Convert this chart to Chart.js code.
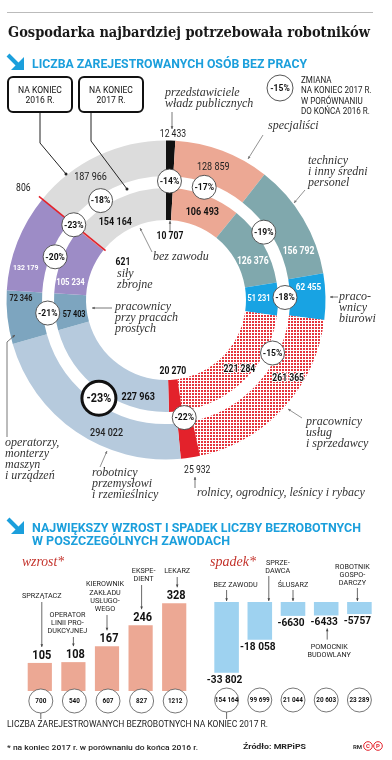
<!DOCTYPE html>
<html>
<head>
<meta charset="utf-8">
<script src="https://cdn.jsdelivr.net/npm/chart.js"></script>
<style>
  body { margin: 0; background: #fff; }
  #page { position: relative; width: 392px; height: 760px; overflow: hidden; }
  #page canvas { position: absolute; left: 0; top: 0; }
</style>
</head>
<body>
<div id="page">
  <canvas id="ring" width="392" height="760"></canvas>
  <canvas id="up" width="392" height="760"></canvas>
  <canvas id="down" width="392" height="760"></canvas>
</div>
<script>
// occupational groups, clockwise from 12 o'clock
const groups = ['przedstawiciele władz publicznych', 'specjaliści', 'technicy i inny średni personel',
  'pracownicy biurowi', 'pracownicy usług i sprzedawcy', 'rolnicy, ogrodnicy, leśnicy i rybacy',
  'robotnicy przemysłowi i rzemieślnicy', 'operatorzy, monterzy maszyn i urządzeń',
  'pracownicy przy pracach prostych', 'siły zbrojne', 'bez zawodu'];
const end2016 = [12433, 128859, 156792, 62455, 261365, 25932, 294022, 72346, 132179, 806, 187966];
const end2017 = [10707, 106493, 126376, 51231, 221284, 20270, 227963, 57403, 105234, 621, 154164];
const change = [-14, -17, -19, -18, -15, -22, -23, -21, -20, -23, -18];

// biggest rise / fall in single occupations
const riseJobs = ['SPRZĄTACZ', 'OPERATOR LINII PRODUKCYJNEJ', 'KIEROWNIK ZAKŁADU USŁUGOWEGO', 'EKSPEDIENT', 'LEKARZ'];
const riseValues = [105, 108, 167, 246, 328];
const riseTotals = [700, 540, 607, 827, 1212];
const fallJobs = ['BEZ ZAWODU', 'SPRZEDAWCA', 'ŚLUSARZ', 'POMOCNIK BUDOWLANY', 'ROBOTNIK GOSPODARCZY'];
const fallValues = [-33802, -18058, -6630, -6433, -5757];
const fallTotals = [154164, 99699, 21044, 20603, 23289];

// how the names are broken on the page
const riseLines = [['SPRZĄTACZ'], ['OPERATOR', 'LINII PRO-', 'DUKCYJNEJ'], ['KIEROWNIK', 'ZAKŁADU', 'USŁUGO-', 'WEGO'], ['EKSPE-', 'DIENT'], ['LEKARZ']];
const fallLines = [['BEZ ZAWODU'], ['SPRZE-', 'DAWCA'], ['ŚLUSARZ'], ['POMOCNIK', 'BUDOWLANY'], ['ROBOTNIK', 'GOSPO-', 'DARCZY']];

const fmt = n => Math.abs(n) >= 10000 ? String(n).replace(/\B(?=(\d{3})+(?!\d))/g, ' ') : String(n);

function say(ctx, s, x, y, o = {}) {
  ctx.save();
  ctx.font = (o.italic ? 'italic ' : '') + (o.weight || 400) + ' ' + (o.size || 10) + 'px ' + (o.family || 'Roboto');
  ctx.fillStyle = o.color || '#222';
  ctx.textBaseline = o.base || 'alphabetic';
  ctx.textAlign = o.align || 'left';
  let sx = o.sx || 1;
  if (o.fit) sx = o.fit / ctx.measureText(s).width;
  ctx.translate(x, y);
  ctx.scale(sx, 1);
  if (o.halo) {
    ctx.strokeStyle = o.halo;
    ctx.lineWidth = 2;
    ctx.lineJoin = 'round';
    ctx.strokeText(s, 0, 0);
  }
  ctx.fillText(s, 0, 0);
  ctx.restore();
}

function line(ctx, pts, o = {}) {
  ctx.save();
  ctx.strokeStyle = o.color || '#555';
  ctx.fillStyle = o.color || '#555';
  ctx.lineWidth = o.width || 0.8;
  ctx.beginPath();
  pts.forEach((p, i) => i ? ctx.lineTo(p[0], p[1]) : ctx.moveTo(p[0], p[1]));
  ctx.stroke();
  const [x1, y1] = pts[pts.length - 2], [x2, y2] = pts[pts.length - 1];
  if (o.head) {
    const a = Math.atan2(y2 - y1, x2 - x1), h = o.head;
    ctx.beginPath();
    ctx.moveTo(x2, y2);
    ctx.lineTo(x2 - h * Math.cos(a - 0.45), y2 - h * Math.sin(a - 0.45));
    ctx.lineTo(x2 - h * Math.cos(a + 0.45), y2 - h * Math.sin(a + 0.45));
    ctx.fill();
  }
  if (o.dot) {
    ctx.beginPath();
    ctx.arc(x2, y2, o.dot, 0, Math.PI * 2);
    ctx.fill();
  }
  ctx.restore();
}

function badge(ctx, x, y, r, s, o = {}) {
  ctx.save();
  ctx.beginPath();
  ctx.arc(x, y, r, 0, Math.PI * 2);
  ctx.fillStyle = '#fff';
  ctx.fill();
  ctx.lineWidth = o.border || 0.9;
  ctx.strokeStyle = o.stroke || '#444';
  ctx.stroke();
  ctx.restore();
  say(ctx, s, x, y + 0.5, { size: o.size || 9.5, weight: 700, align: 'center', base: 'middle', color: '#111', sx: o.sx || 0.9 });
}

function dots() {
  const c = document.createElement('canvas');
  c.width = 3; c.height = 3;
  const g = c.getContext('2d');
  g.fillStyle = '#fff';
  g.fillRect(0, 0, 3, 3);
  g.fillStyle = '#e5353d';
  g.fillRect(0, 0, 2, 2);
  return g.createPattern(c, 'repeat');
}

const ringColors = ['#111111', '#eca894', '#80a8ad', '#18a3e3', dots(), '#e3222b',
  '#b6cadd', '#7da5bf', '#9d8cc6', '#e3222b', '#dcdcdc'];

// ring number placement: [angle from 12 o'clock, radius, size, weight, colour, halo]
const outerAt = [
  [2.4, 166, 10, 400, '#222'], [19.6, 141, 10.5, 400, '#222'], [70, 141, 10, 700, '#fff'],
  [85, 143, 9.5, 700, '#fff'], [122.6, 145, 10, 700, '#111', '#fff'], [169.6, 173, 10, 400, '#222'],
  [204, 146, 10.5, 500, '#222'], [270.4, 145, 8.5, 700, '#222'], [283, 144, 8, 700, '#fff'],
  [308, 181, 10, 400, '#222'], [328.4, 144, 10.5, 400, '#222']];
const innerAt = [
  [3.6, 64, 10, 700, '#111'], [22.5, 95, 10.5, 700, '#111'], [66, 95, 10, 700, '#fff'],
  [89.4, 93, 8.5, 700, '#fff'], [133.4, 101, 10, 700, '#111', '#fff'], [174.5, 72, 10, 700, '#111'],
  [196, 101, 10.5, 700, '#111'], [261, 93, 8.5, 700, '#111'], [280, 97, 9, 700, '#fff'],
  [311, 57, 10, 700, '#111'], [327, 93, 10.5, 700, '#111']];
const badgeShift = [0, -2, -4, 0, -16, 0, 0, 0, 0, 0, -8];

const serif = { italic: true, size: 12, family: "'Liberation Serif'", color: '#333' };

function staticText(ctx) {
  line(ctx, [[7, 12.5], [373, 12.5]], { color: '#bbb', width: 1 });
  say(ctx, 'Gospodarka najbardziej potrzebowała robotników', 8, 37, { size: 14.5, weight: 700, family: "'DejaVu Serif'", color: '#1a1a1a', fit: 362 });

  const arrowIcon = (x, y) => {
    ctx.save();
    ctx.strokeStyle = '#1b9fdc';
    ctx.fillStyle = '#1b9fdc';
    ctx.lineWidth = 4;
    ctx.beginPath(); ctx.moveTo(x, y); ctx.lineTo(x + 11, y + 11); ctx.stroke();
    ctx.beginPath(); ctx.moveTo(x + 16, y + 2); ctx.lineTo(x + 16, y + 15); ctx.lineTo(x + 3, y + 15); ctx.fill();
    ctx.restore();
  };
  arrowIcon(8, 55);
  say(ctx, 'LICZBA ZAREJESTROWANYCH OSÓB BEZ PRACY', 32, 68, { size: 13, weight: 700, color: '#1b9fdc', fit: 275 });
  arrowIcon(8, 519);
  say(ctx, 'NAJWIĘKSZY WZROST I SPADEK LICZBY BEZROBOTNYCH', 32, 532, { size: 13, weight: 700, color: '#1b9fdc', fit: 329 });
  say(ctx, 'W POSZCZEGÓLNYCH ZAWODACH', 32, 545, { size: 13, weight: 700, color: '#1b9fdc', fit: 198 });

  // year boxes
  [[7, '2016 R.'], [78, '2017 R.']].forEach(([x, y2]) => {
    ctx.save();
    ctx.lineWidth = 2;
    ctx.strokeStyle = '#111';
    ctx.beginPath();
    ctx.roundRect(x + 1, 77, 64, 35, 5);
    ctx.stroke();
    ctx.restore();
    say(ctx, 'NA KONIEC', x + 33, 93, { size: 9, align: 'center', color: '#111', sx: 0.95 });
    say(ctx, y2, x + 33, 103, { size: 9, align: 'center', color: '#111', sx: 0.95 });
  });
  line(ctx, [[40, 113], [40, 143], [66, 174]], { color: '#222', width: 1, dot: 1.5 });
  line(ctx, [[91, 113], [91, 141], [127, 189]], { color: '#222', width: 1, dot: 1.5 });

  // legend
  badge(ctx, 280, 88, 13, '-15%', { size: 9.5 });
  ['ZMIANA', 'NA KONIEC 2017 R.', 'W PORÓWNANIU', 'DO KOŃCA 2016 R.'].forEach((s, i) =>
    say(ctx, s, 301, 83 + i * 10.3, { size: 8.5, color: '#222', sx: 0.95 }));

  // bottom
  say(ctx, 'wzrost*', 22, 566, { italic: true, size: 15, family: "'Liberation Serif'", color: '#c4342d', fit: 42 });
  say(ctx, 'spadek*', 210, 566, { italic: true, size: 15, family: "'Liberation Serif'", color: '#c4342d', fit: 46 });
  say(ctx, 'LICZBA ZAREJESTROWANYCH BEZROBOTNYCH NA KONIEC 2017 R.', 7, 727, { size: 8.5, color: '#222', fit: 261 });
  say(ctx, '* na koniec 2017 r. w porównaniu do końca 2016 r.', 7, 750, { size: 8, weight: 500, color: '#222', fit: 191 });
  say(ctx, 'Źródło: MRPiPS', 243, 749, { size: 8, weight: 700, color: '#222', fit: 63 });
  say(ctx, 'RM', 353, 749, { size: 6, weight: 700, color: '#333' });
  ['C', 'P'].forEach((s, i) => {
    ctx.save();
    ctx.strokeStyle = '#e3222b';
    ctx.lineWidth = 1;
    ctx.beginPath();
    ctx.arc(368 + i * 10, 746, 4.3, 0, Math.PI * 2);
    ctx.stroke();
    ctx.restore();
    say(ctx, s, 368 + i * 10, 746.5, { size: 6, weight: 700, color: '#e3222b', align: 'center', base: 'middle' });
  });
}

function groupNames(ctx) {
  const lines = (arr, x, y0, step) => arr.forEach((s, i) => say(ctx, s, x, y0 + i * step, serif));
  lines(['przedstawiciele', 'władz publicznych'], 165, 96, 11);
  line(ctx, [[172, 112], [172, 129]], { color: '#555', head: 3 });
  lines(['specjaliści'], 268, 129, 11);
  line(ctx, [[263, 135], [248, 159]], { color: '#777', head: 3 });
  lines(['technicy', 'i inny średni', 'personel'], 308, 164, 11);
  line(ctx, [[305, 190], [294, 203]], { color: '#777', head: 3 });
  lines(['praco-', 'wnicy', 'biurowi'], 339, 300, 11);
  line(ctx, [[338, 297], [330, 297]], { color: '#555', head: 3 });
  lines(['pracownicy', 'usług', 'i sprzedawcy'], 306, 425, 11);
  line(ctx, [[302, 418], [288, 409]], { color: '#777', head: 3 });
  lines(['rolnicy, ogrodnicy, leśnicy i rybacy'], 197, 496, 11);
  line(ctx, [[195, 488], [195, 477]], { color: '#555', head: 3 });
  lines(['robotnicy', 'przemysłowi', 'i rzemieślnicy'], 92, 476, 11);
  line(ctx, [[100, 467], [107, 451]], { color: '#777', head: 3 });
  lines(['operatorzy,', 'monterzy', 'maszyn', 'i urządzeń'], 5, 446, 11);
  line(ctx, [[7, 437], [7, 342], [15, 335]], { color: '#555', head: 3 });
  lines(['pracownicy', 'przy pracach', 'prostych'], 115, 310, 11);
  line(ctx, [[112, 308], [92, 308]], { color: '#555', head: 3 });
  lines(['bez zawodu'], 153, 260, 11);
  line(ctx, [[152, 252], [140, 228]], { color: '#777', head: 3 });
  lines(['siły', 'zbrojne'], 117, 277, 11);
  line(ctx, [[170, 231], [170, 221]], { color: '#555', head: 3 });
}

const ringPlugin = {
  id: 'ringLabels',
  afterDraw(chart) {
    const ctx = chart.ctx;
    const outer = chart.getDatasetMeta(0).data;
    const cx = outer[0].x, cy = outer[0].y;
    const polar = (deg, r) => {
      const a = (deg - 90) * Math.PI / 180;
      return [cx + r * Math.cos(a), cy + r * Math.sin(a)];
    };
    const mid = a => (a.startAngle + a.endAngle) / 2 * 180 / Math.PI + 90;

    // siły zbrojne: a hairline slice, drawn as a red stroke across both rings
    const sily = outer[9];
    const [ax, ay] = polar(mid(sily), 78), [bx, by] = polar(mid(sily), 164);
    line(ctx, [[ax, ay], [bx, by]], { color: '#e3222b', width: 1.6 });

    staticText(ctx);
    groupNames(ctx);

    end2016.forEach((v, i) => {
      const [d, r, size, weight, color, halo] = outerAt[i];
      const [x, y] = polar(d, r);
      say(ctx, fmt(v), x, y, { size, weight, color, halo, align: 'center', base: 'middle', sx: 0.86 });
    });
    end2017.forEach((v, i) => {
      const [d, r, size, weight, color, halo] = innerAt[i];
      const [x, y] = polar(d, r);
      say(ctx, fmt(v), x, y, { size, weight, color, halo, align: 'center', base: 'middle', sx: 0.86 });
    });
    change.forEach((v, i) => {
      const [x, y] = polar(mid(outer[i]) + badgeShift[i], 119);
      if (i === 6) badge(ctx, x, y, 17, v + '%', { border: 3, stroke: '#111', size: 12 });
      else badge(ctx, x, y, 12, v + '%');
    });
  }
};

new Chart(document.getElementById('ring'), {
  type: 'doughnut',
  data: {
    labels: groups,
    datasets: [
      { label: 'koniec 2016', data: end2016, backgroundColor: ringColors, weight: 35.5 },
      { label: 'odstęp', data: [1], backgroundColor: 'rgba(0,0,0,0)', weight: 12 },
      { label: 'koniec 2017', data: end2017, backgroundColor: ringColors, weight: 32 }
    ]
  },
  options: {
    responsive: false,
    animation: false,
    events: [],
    cutout: 80,
    elements: { arc: { borderWidth: 0, offset: 0, hoverOffset: 0 } },
    layout: { padding: { left: 6.5, right: 66.5, top: 140.5, bottom: 300.5 } },
    plugins: { legend: { display: false }, tooltip: { enabled: false } }
  },
  plugins: [ringPlugin]
});

function barLabels(chart, values, totals, names, nameAt, arrowDx, up) {
  const ctx = chart.ctx;
  const bars = chart.getDatasetMeta(0).data;
  bars.forEach((b, i) => {
    const end = b.y; // value end of the bar
    const vy = up ? end - 4 : end + 10;
    say(ctx, fmt(values[i]), b.x + (up ? 2 : -2), vy, { size: up ? 12.5 : 11.5, weight: 700, align: 'center', color: '#111', sx: 0.88 });
    // totals in circles under the bars
    badge(ctx, b.x + (up ? 1 : 0), up ? 701 : 700, 12, fmt(totals[i]), { size: 7.5, sx: 0.85, border: 0.8, stroke: '#555' });
    // occupation names with pointers
    const [dx, last, below] = nameAt[i];
    const ln = names[i];
    ln.forEach((s, k) => say(ctx, s, b.x + dx, last - (ln.length - 1 - k) * 8.2, { size: 7.6, align: 'center', color: '#222', sx: 0.95 }));
    const ax = b.x + arrowDx[i];
    if (below) {
      line(ctx, [[ax, last - ln.length * 8.2 - 1], [ax, vy + 3]], { color: '#444', head: 3 });
    } else if (up) {
      line(ctx, [[ax, last + 4], [ax, vy - 12]], { color: '#444', head: 3 });
    } else {
      line(ctx, [[ax, last + 3], [ax, 601]], { color: '#444', head: 3 });
    }
  });
  const first = bars[0];
  line(ctx, [[first.x + (up ? 1 : 0), up ? 713 : 712], [first.x + (up ? 1 : 0), 719]], { color: '#444' });
}

new Chart(document.getElementById('up'), {
  type: 'bar',
  data: { labels: riseJobs, datasets: [{ label: 'wzrost', data: riseValues, backgroundColor: '#eca894', barPercentage: 0.72, categoryPercentage: 1 }] },
  options: {
    responsive: false, animation: false, events: [],
    layout: { padding: { left: 23, right: 201, top: 560, bottom: 69 } },
    scales: { x: { display: false }, y: { display: false, min: 0, max: 490 } },
    plugins: { legend: { display: false }, tooltip: { enabled: false } }
  },
  plugins: [{
    id: 'riseLabels',
    afterDatasetsDraw: c => barLabels(c, riseValues, riseTotals, riseLines,
      [[2, 598], [-6, 633], [-2, 611], [3, 581], [3, 573]], [2, 0, 0, 1, 3], true)
  }]
});

new Chart(document.getElementById('down'), {
  type: 'bar',
  data: { labels: fallJobs, datasets: [{ label: 'spadek', data: fallValues, backgroundColor: '#9ed2f0', barPercentage: 0.74, categoryPercentage: 1 }] },
  options: {
    responsive: false, animation: false, events: [],
    layout: { padding: { left: 210, right: 16, top: 602, bottom: 70 } },
    scales: { x: { display: false }, y: { display: false, min: -42000, max: 0 } },
    plugins: { legend: { display: false }, tooltip: { enabled: false } }
  },
  plugins: [{
    id: 'fallLabels',
    afterDatasetsDraw: c => barLabels(c, fallValues, fallTotals, fallLines,
      [[9, 587], [18, 573], [0, 587], [3, 657, true], [-7, 585]], [0, 9, 0, 1, -2], false)
  }]
});
</script>
</body>
</html>
